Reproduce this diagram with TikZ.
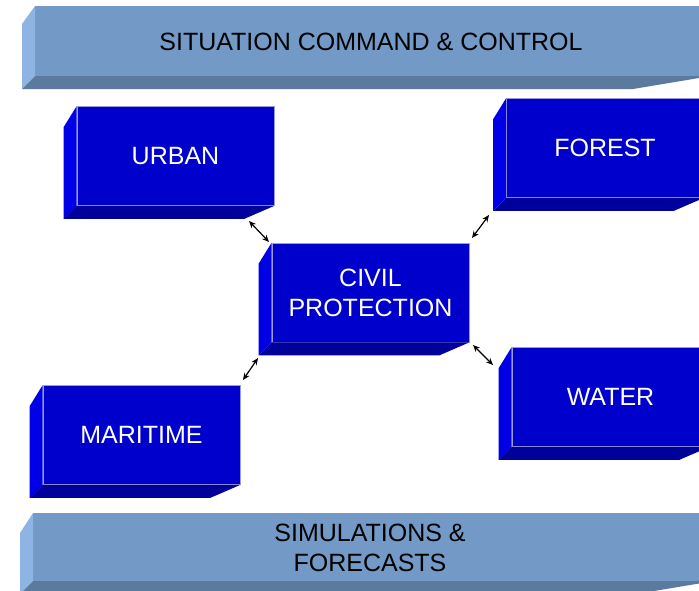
\documentclass[tikz,border=0pt]{standalone}
\usepackage{fontspec}
\setmainfont{Liberation Sans}
\usetikzlibrary{arrows.meta,calc}

\definecolor{barfront}{HTML}{7399C6}
\definecolor{barside}{HTML}{8DB4E2}
\definecolor{barbottom}{HTML}{5B7A9E}
\definecolor{boxfront}{HTML}{0000CC}
\definecolor{boxside}{HTML}{0000E6}
\definecolor{boxbottom}{HTML}{00009A}
\definecolor{boxedge}{HTML}{9A9AD8}

\tikzset{
  frontface/.style={rectangle, fill=boxfront, draw=boxedge, line width=0.7pt,
    minimum width=197pt, minimum height=99pt, inner sep=0pt,
    text=white, align=center, font=\fontsize{25}{30}\selectfont},
  sideface/.style={fill=boxside},
  bottomface/.style={fill=boxbottom},
  bartext/.style={text=black, align=center, font=\fontsize{25}{30}\selectfont},
  link/.style={black, line width=1.2pt, {Stealth[length=7pt,width=6pt]}-{Stealth[length=7pt,width=6pt]}}
}

% side and bottom faces of a bevelled box, hung off its front node
\newcommand\drawbevel[1]{%
  \fill[sideface] (#1.north west) -- ($(#1.north west)+(-13,21)$)
    -- ($(#1.south west)+(-13,13)$) -- (#1.south west) -- cycle;
  \fill[bottomface] (#1.south west) -- ($(#1.south west)+(-13,13)$)
    -- ($(#1.south east)+(-30,13)$) -- (#1.south east) -- cycle;
}

\begin{document}
\begin{tikzpicture}[x=1pt,y=-1pt]
  \useasboundingbox (0,0) rectangle (699,590);
  \clip (0,0) rectangle (699,590);

  % top bar
  \fill[barfront] (35,6) rectangle (760,76);
  \fill[barside] (35,6) -- (22,24) -- (22,89) -- (35,76) -- cycle;
  \fill[barbottom] (35,76) -- (711,76) -- (633,89) -- (22,89) -- cycle;
  \node[bartext] (command) at (371,42) {SITUATION COMMAND \& CONTROL};

  % bottom bar
  \fill[barfront] (33,513) rectangle (760,581);
  \fill[barside] (33,513) -- (20,533) -- (20,594) -- (33,581) -- cycle;
  \fill[barbottom] (33,581) -- (714,581) -- (636,594) -- (20,594) -- cycle;
  \node[bartext] (simulations) at (370,548) {SIMULATIONS \&\\FORECASTS};

  % domain boxes
  \node[frontface] (urban)    at (175.5,156)   {URBAN};
  \node[frontface] (civil)    at (370.5,292.5) {CIVIL\\PROTECTION};
  \node[frontface] (forest)   at (605,148)     {FOREST};
  \node[frontface] (water)    at (610.5,397)   {WATER};
  \node[frontface] (maritime) at (141.5,435)   {MARITIME};
  \drawbevel{urban}
  \drawbevel{civil}
  \drawbevel{forest}
  \drawbevel{water}
  \drawbevel{maritime}

  % links between civil protection and the domains
  \coordinate (u1) at (249,221);  \coordinate (c1) at (269,242);
  \coordinate (c2) at (472,238);  \coordinate (f1) at (489,215);
  \coordinate (c3) at (258,358);  \coordinate (m1) at (243,380);
  \coordinate (c4) at (473,345);  \coordinate (w1) at (493,365);
  \draw[link] (u1) -- (c1);
  \draw[link] (c2) -- (f1);
  \draw[link] (c3) -- (m1);
  \draw[link] (c4) -- (w1);
\end{tikzpicture}
\end{document}
